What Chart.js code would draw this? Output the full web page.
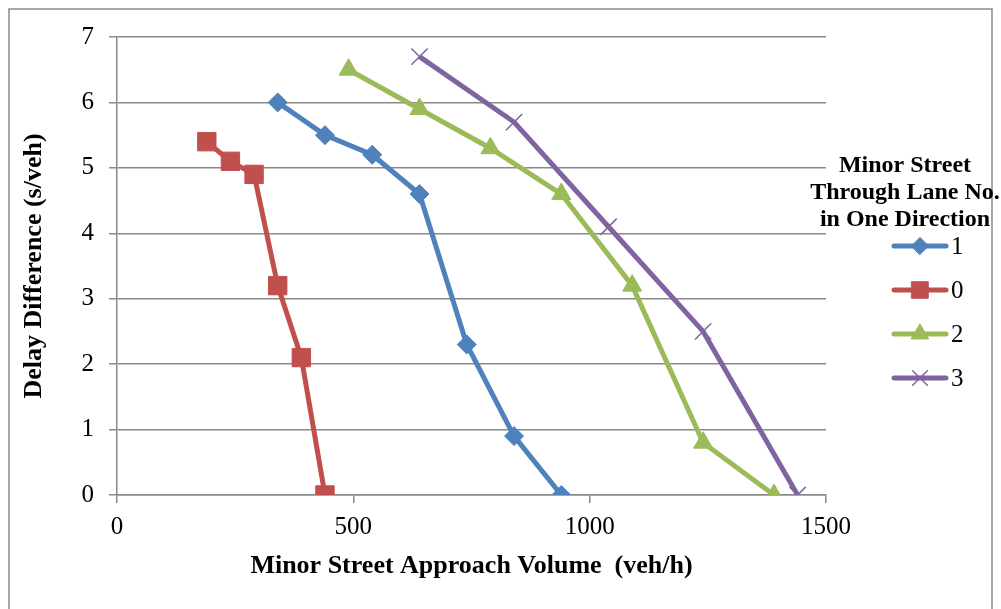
<!DOCTYPE html>
<html lang="en">
<head>
    <meta charset="UTF-8">
    <title>Delay Difference vs Minor Street Approach Volume</title>
    <script src="https://cdn.jsdelivr.net/npm/chart.js"></script>
    <style>
        html, body { margin: 0; padding: 0; background: #fff; }
        #wrap { width: 1001px; height: 609px; }
    </style>
</head>
<body>
    <div id="wrap">
        <canvas id="myChart" width="1001" height="609"></canvas>
    </div>
    <script>
        // lane counts (legend order as in the original)
        const laneLabels = ["1", "0", "2", "3"];

        const vol1 = [340, 440, 540, 640, 740, 840, 940];
        const delay1 = [6.0, 5.5, 5.2, 4.6, 2.3, 0.9, 0];

        const vol0 = [190, 240, 290, 340, 390, 440];
        const delay0 = [5.4, 5.1, 4.9, 3.2, 2.1, 0];

        const vol2 = [490, 640, 790, 940, 1090, 1240, 1390];
        const delay2 = [6.5, 5.9, 5.3, 4.6, 3.2, 0.8, 0];

        const vol3 = [640, 840, 1040, 1240, 1440];
        const delay3 = [6.7, 5.7, 4.1, 2.5, 0];

        const xTicks = [0, 500, 1000, 1500];
        const yTicks = [0, 1, 2, 3, 4, 5, 6, 7];

        const serif = "'Liberation Serif', 'Times New Roman', serif";
        const gridGray = "#8a8a8a";

        function pts(xs, ys) {
            return xs.map((x, i) => ({ x: x, y: ys[i] }));
        }

        const colors = ["#4F81BD", "#C0504D", "#9BBB59", "#8064A2"];
        const styles = ["rectRot", "rect", "triangle", "crossRot"];
        const radii = [9.5, 13, 11, 11.5];
        const series = [pts(vol1, delay1), pts(vol0, delay0), pts(vol2, delay2), pts(vol3, delay3)];

        const datasets = series.map((d, i) => ({
            label: laneLabels[i],
            data: d,
            borderColor: colors[i],
            backgroundColor: colors[i],
            borderWidth: 5,
            pointStyle: styles[i],
            pointRadius: radii[i],
            pointBorderWidth: i === 3 ? 1.5 : 1,
            pointBackgroundColor: colors[i],
            pointBorderColor: colors[i],
            tension: 0
        }));

        // outer frame like the spreadsheet chart area
        const framePlugin = {
            id: "frame",
            beforeDraw(chart) {
                const ctx = chart.ctx;
                ctx.save();
                ctx.fillStyle = "#fff";
                ctx.fillRect(0, 0, chart.width, chart.height);
                ctx.strokeStyle = "#8a8a8a";
                ctx.lineWidth = 1.5;
                ctx.strokeRect(9, 9, 983, 640);
                ctx.restore();
            }
        };

        // legend with title and line+marker samples
        const legendPlugin = {
            id: "sideLegend",
            afterDraw(chart) {
                const ctx = chart.ctx;
                const cx = 905;
                ctx.save();
                ctx.fillStyle = "#000";
                ctx.textAlign = "center";
                ctx.textBaseline = "middle";
                ctx.font = "bold 24px " + serif;
                ["Minor Street", "Through Lane No.", "in One Direction"].forEach((t, i) => {
                    ctx.fillText(t, cx, 166 + i * 27);
                });
                chart.data.datasets.forEach((ds, i) => {
                    const y = 246 + i * 44;
                    ctx.strokeStyle = ds.borderColor;
                    ctx.lineWidth = 5;
                    ctx.lineCap = "round";
                    ctx.beginPath();
                    ctx.moveTo(894, y);
                    ctx.lineTo(946, y);
                    ctx.stroke();
                    ctx.fillStyle = ds.borderColor;
                    ctx.lineWidth = ds.pointBorderWidth;
                    Chart.helpers.drawPoint(ctx, {
                        pointStyle: ds.pointStyle,
                        radius: ds.pointRadius * 0.9,
                        rotation: 0,
                        borderWidth: ds.pointBorderWidth
                    }, 920, y);
                    ctx.fillStyle = "#000";
                    ctx.textAlign = "left";
                    ctx.font = "25px " + serif;
                    ctx.fillText(ds.label, 951, y + 1);
                });
                ctx.restore();
            }
        };

        const ctx = document.getElementById("myChart");
        new Chart(ctx, {
            type: "line",
            data: { datasets: datasets },
            plugins: [framePlugin, legendPlugin],
            options: {
                responsive: false,
                animation: false,
                layout: { padding: { top: 37, right: 175, left: 0, bottom: 0 } },
                plugins: {
                    legend: { display: false },
                    tooltip: { enabled: false }
                },
                scales: {
                    x: {
                        type: "linear",
                        min: xTicks[0],
                        max: xTicks[xTicks.length - 1],
                        afterBuildTicks(scale) {
                            scale.ticks = xTicks.map(v => ({ value: v }));
                        },
                        afterFit(scale) { scale.height = 114; },
                        ticks: {
                            color: "#000",
                            font: { family: serif, size: 25 },
                            padding: 9,
                            maxRotation: 0,
                            callback: v => String(v)
                        },
                        grid: {
                            drawOnChartArea: false,
                            drawTicks: true,
                            tickLength: 8,
                            color: gridGray,
                            lineWidth: 1.5
                        },
                        border: { color: gridGray, width: 1.5 },
                        title: {
                            display: true,
                            text: "Minor Street Approach Volume  (veh/h)",
                            color: "#000",
                            font: { family: serif, size: 26, weight: "bold" },
                            padding: { top: 0, bottom: 27 }
                        }
                    },
                    y: {
                        type: "linear",
                        min: yTicks[0],
                        max: yTicks[yTicks.length - 1],
                        afterBuildTicks(scale) {
                            scale.ticks = yTicks.map(v => ({ value: v }));
                        },
                        afterFit(scale) { scale.width = 117; },
                        ticks: {
                            color: "#000",
                            font: { family: serif, size: 25 },
                            padding: 15,
                            callback: v => String(v)
                        },
                        grid: {
                            drawTicks: true,
                            tickLength: 8,
                            color: gridGray,
                            lineWidth: 1.5
                        },
                        border: { color: gridGray, width: 1.5 },
                        title: {
                            display: true,
                            text: "Delay Difference (s/veh)",
                            color: "#000",
                            font: { family: serif, size: 26, weight: "bold" },
                            padding: { top: 19, bottom: 0 }
                        }
                    }
                }
            }
        });
    </script>
</body>
</html>
